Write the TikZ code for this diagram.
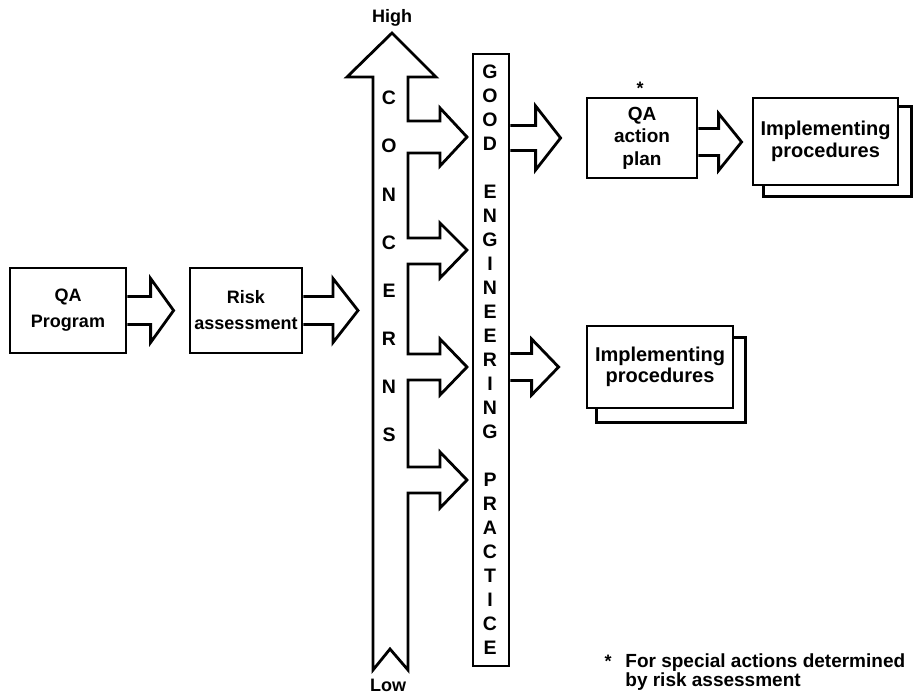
\documentclass[tikz,border=0pt]{standalone}
\usepackage{fontspec}
\setmainfont{Liberation Sans}
\usetikzlibrary{calc,backgrounds}

% Hollow block arrow: #1 start point, #2 point giving the tip's x,
% #3 shaft half-width, #4 head half-width, #5 head length
\newcommand\blockarr[5]{%
  \draw[blk] let \p1=#1, \p2=#2 in
    (\x1,\y1+#3pt) -- (\x2-#5pt,\y1+#3pt) -- (\x2-#5pt,\y1+#4pt) -- (\x2,\y1)
    -- (\x2-#5pt,\y1-#4pt) -- (\x2-#5pt,\y1-#3pt) -- (\x1,\y1-#3pt);}

\begin{document}
\begin{tikzpicture}[x=1pt,y=-1pt,
  line width=2.8pt, line join=miter,
  blk/.style={draw, line width=2.8pt, line join=miter},
  box/.style={draw, fill=white, inner sep=0pt, align=center,
    font=\bfseries\fontsize{18}{26}\selectfont},
  planbox/.style={box, font=\bfseries\fontsize{19}{22.5}\selectfont},
  implbox/.style={box, font=\bfseries\fontsize{20}{21.5}\selectfont},
  letter/.style={inner sep=0pt, font=\bfseries\fontsize{19.5}{19.5}\selectfont},
  label/.style={inner sep=0pt, font=\bfseries\fontsize{18}{18}\selectfont},
  note/.style={inner sep=0pt, anchor=base west, font=\bfseries\fontsize{19}{19.5}\selectfont}]

\useasboundingbox (0,0) rectangle (913,695);

% boxes
\node[box, minimum width=116pt, minimum height=85pt] (qa) at (68,310.5) {QA\\Program};
\node[box, minimum width=112pt, minimum height=85pt] (risk) at (246,310.5) {Risk\\assessment};
\node[planbox, minimum width=110pt, minimum height=80pt] (qaplan) at (642,138) {QA\\action\\plan};
\node[implbox, minimum width=145pt, minimum height=87pt] (impl1) at (825.5,141.5) {Implementing\\procedures};
\node[implbox, minimum width=146pt, minimum height=82pt] (impl2) at (660,367) {Implementing\\procedures};

% white page, then the stacked copies behind the procedure boxes
\begin{scope}[on background layer]
  \fill[white] (0,0) rectangle (913,695);
  \draw[blk] ($(impl1.north west)+(12,10)$) rectangle ($(impl1.south east)+(12,10)$);
  \draw[blk] ($(impl2.north west)+(11,13)$) rectangle ($(impl2.south east)+(11,13)$);
\end{scope}

\node[label] (star) at (640,88) {*};

% good engineering practice column
\node[draw, minimum width=36pt, minimum height=612pt, inner sep=0pt] (gep) at (491,360) {};
\foreach \ch [count=\k from 0] in {G,O,O,D}
  \node[letter] (good\k) at (490,{72+24*\k}) {\ch};
\foreach \ch [count=\k from 5] in {E,N,G,I,N,E,E,R,I,N,G}
  \node[letter] (eng\k) at (490,{72+24*\k}) {\ch};
\foreach \ch [count=\k from 17] in {P,R,A,C,T,I,C,E}
  \node[letter] (prac\k) at (490,{72+24*\k}) {\ch};

% concerns scale: double-ended arrow with branches into the column
\coordinate (concL) at (373,310.5);
\draw[blk] (392,33) -- (436,77) -- (408,77)
  -- (408,121) -- (440,121) -- (440,108) -- (467,137) -- (440,166) -- (440,153) -- (408,153)
  -- (408,238) -- (440,238) -- (440,223) -- (467,250) -- (440,278) -- (440,264) -- (408,264)
  -- (408,354) -- (440,354) -- (440,339) -- (467,367) -- (440,395) -- (440,380) -- (408,380)
  -- (408,467) -- (440,467) -- (440,452) -- (467,480) -- (440,508) -- (440,493) -- (408,493)
  -- (408,670) -- (390,649) -- (373,670) -- (373,77) -- (347,77) -- cycle;
\foreach \ch [count=\k from 0] in {C,O,N,C,E,R,N,S}
  \node[letter] (conc\k) at (389,{98+48.15*\k}) {\ch};
\node[label] (high) at (392,18) {High};
\node[label] (low) at (388,685) {Low};

% flow arrows
\blockarr{(qa.east)}{($(risk.west)+(-15,0)$)}{14}{32}{23}
\blockarr{(risk.east)}{($(concL)+(-15,0)$)}{14}{32}{25}
\blockarr{(gep.east |- qaplan.west)}{($(qaplan.west)+(-25,0)$)}{12.5}{32}{25}
\blockarr{($(qaplan.east)+(0,4)$)}{($(impl1.west)+(-10,0)$)}{13.5}{28.5}{23}
\blockarr{(gep.east |- impl2.west)}{($(impl2.west)+(-27,0)$)}{13.5}{28}{27}

% footnote
\node[label, anchor=base] (fnstar) at (608,667) {*};
\node[note] (fn1) at (624,667) {For special actions determined};
\node[note] (fn2) at (624,686) {by risk assessment};
\end{tikzpicture}
\end{document}
